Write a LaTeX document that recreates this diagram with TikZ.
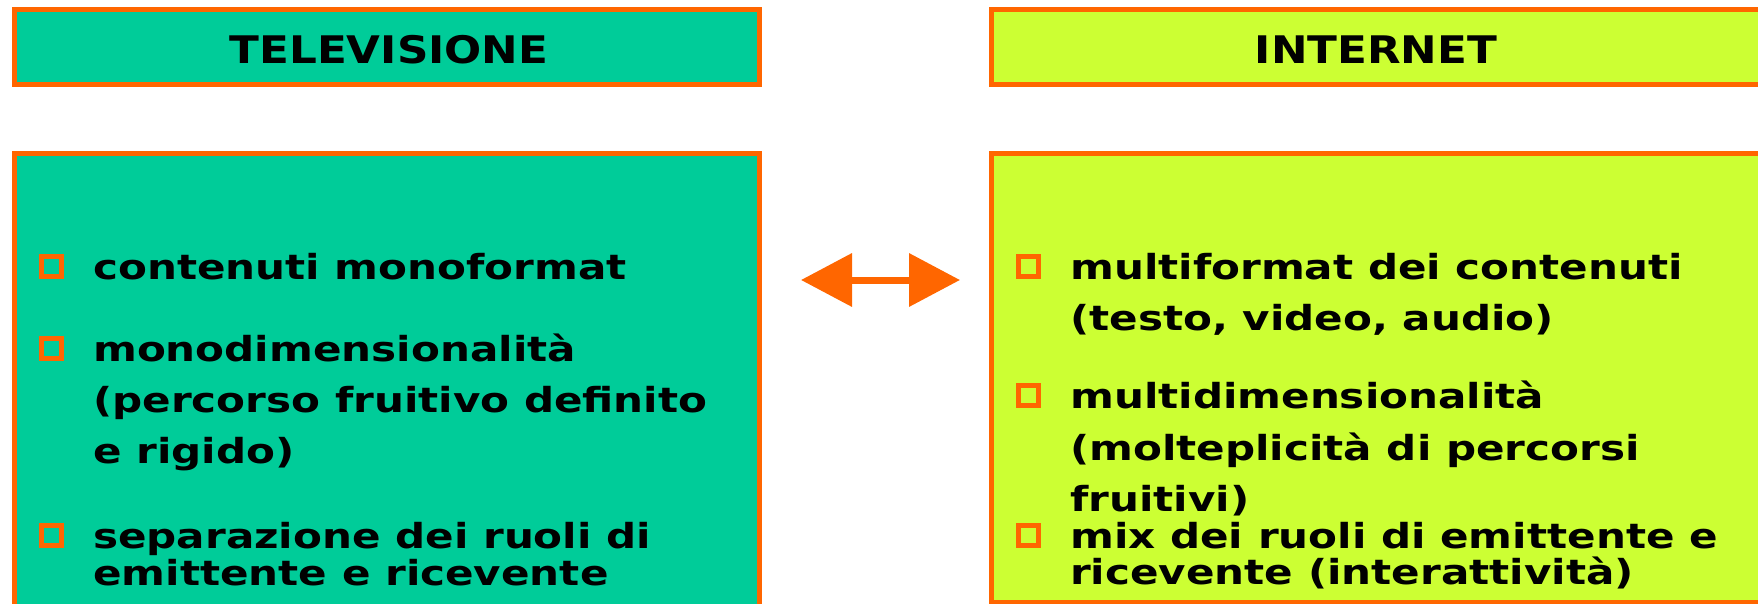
\documentclass[tikz,border=0pt]{standalone}
\usepackage{fontspec}
\usetikzlibrary{arrows.meta}
\newfontfamily\bodyfont[FakeStretch=1.22]{DejaVu Sans Bold}
\newfontfamily\titlefont[FakeStretch=1.15]{DejaVu Sans Bold}
\definecolor{tvteal}{HTML}{00CC99}
\definecolor{netlime}{HTML}{CCFF33}
\definecolor{brdorange}{HTML}{FF6600}
\tikzset{
  panel/.style={draw=brdorange, line width=5pt, rectangle, inner sep=0pt, outer sep=0pt},
  bul/.style={draw=brdorange, line width=5pt, rectangle, inner sep=0pt, outer sep=0pt, minimum size=20pt},
  txt/.style={anchor=base west, inner sep=0pt, font=\bodyfont\fontsize{34.5}{40}\selectfont},
  ttl/.style={anchor=base, inner sep=0pt, font=\titlefont\fontsize{38}{44}\selectfont},
  dblarrow/.style={draw=brdorange, line width=7pt, {Triangle[length=51pt,width=52pt]}-{Triangle[length=51pt,width=52pt]}}
}
\begin{document}
\begin{tikzpicture}[x=1pt,y=-1pt]
\useasboundingbox (0,0) rectangle (1758,604);
\clip (0,0) rectangle (1758,604);
% headers
\node[panel, fill=tvteal, minimum width=745pt, minimum height=75pt] (tvhead) at (387,47) {};
\node[panel, fill=netlime, minimum width=769pt, minimum height=75pt] (nethead) at (1376,47) {};
\node[ttl] (tvtitle) at (389,64) {TELEVISIONE};
\node[ttl] (nettitle) at (1376,64) {INTERNET};
% bodies
\node[panel, fill=tvteal, minimum width=745pt, minimum height=500pt, anchor=north west] (tvbody) at (14.5,153.5) {};
\node[panel, fill=netlime, minimum width=780pt, minimum height=449pt, anchor=north west] (netbody) at (991.5,153.5) {};
% left list
\node[bul] (lb1) at (51.5,266.5) {};
\node[txt] (l1) at (93,279) {contenuti monoformat};
\node[bul] (lb2) at (51.5,348.5) {};
\node[txt] (l2) at (93,361) {monodimensionalità};
\node[txt] (l3) at (93,412) {(percorso fruitivo definito};
\node[txt] (l4) at (93,463) {e rigido)};
\node[bul] (lb3) at (51.5,535.5) {};
\node[txt] (l5) at (93,548) {separazione dei ruoli di};
\node[txt] (l6) at (93,585) {emittente e ricevente};
% right list
\node[bul] (rb1) at (1028,266.5) {};
\node[txt] (r1) at (1070,279) {multiformat dei contenuti};
\node[txt] (r2) at (1070,330) {(testo, video, audio)};
\node[bul] (rb2) at (1028,395.5) {};
\node[txt] (r3) at (1070,408) {multidimensionalità};
\node[txt] (r4) at (1070,460) {(molteplicità di percorsi};
\node[txt] (r5) at (1070,511) {fruitivi)};
\node[bul] (rb3) at (1028,535.5) {};
\node[txt] (r6) at (1070,548) {mix dei ruoli di emittente e};
\node[txt] (r7) at (1070,584) {ricevente (interattività)};
% arrow
\coordinate (aL) at (801,280);
\coordinate (aR) at (960,280);
\draw[dblarrow] (aL) -- (aR);
\end{tikzpicture}
\end{document}
